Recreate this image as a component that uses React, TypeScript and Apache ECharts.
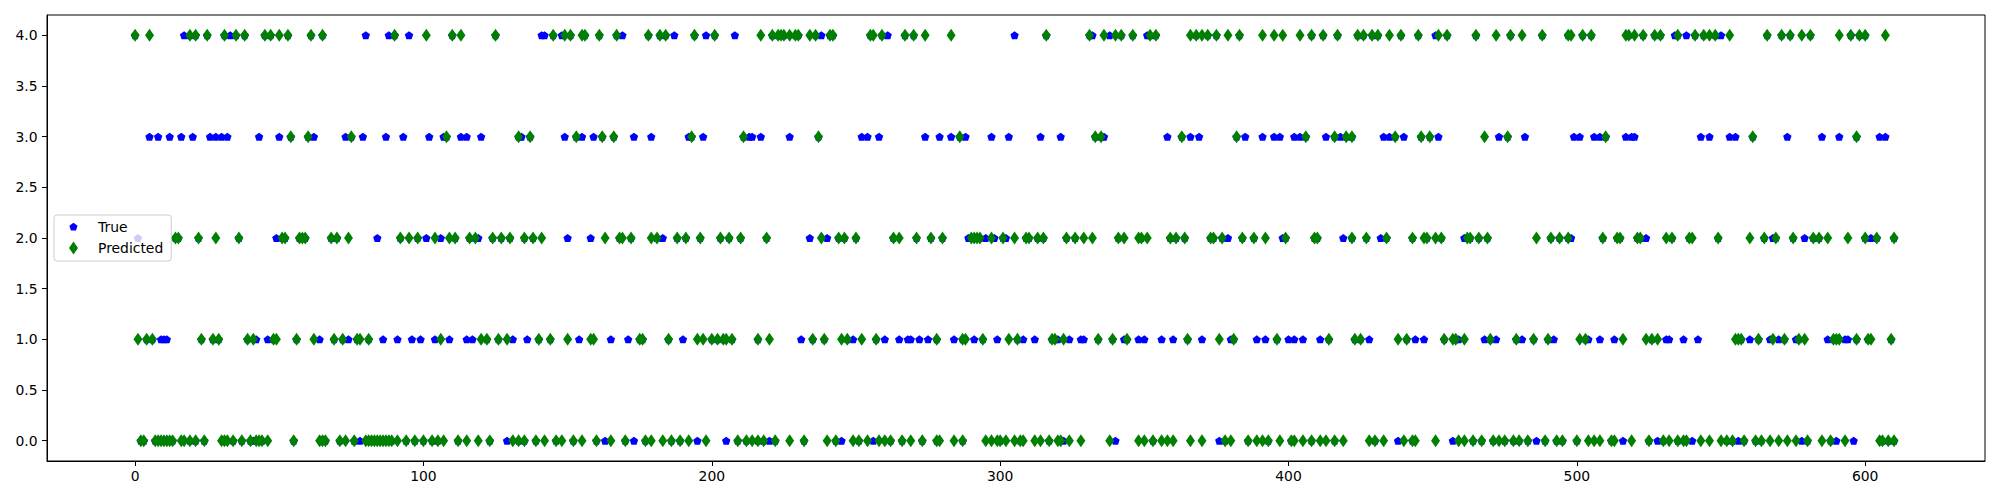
import React, { useEffect, useRef } from "react";
import * as echarts from "echarts";

const xTicks = [0, 100, 200, 300, 400, 500, 600];
const yTicks = [0, 0.5, 1, 1.5, 2, 2.5, 3, 3.5, 4];

// Predicted class (green diamonds): sample indices per class
const pred4 = [0, 5, 19, 21, 25, 31, 35, 38, 45, 47, 50, 53, 61, 65, 90, 101, 110, 113, 125, 145, 149, 151, 155, 156, 161, 167, 178, 182, 184, 194, 201, 217, 221, 223, 224, 225, 227, 229, 230, 234, 236, 241, 242, 255, 256, 259, 267, 270, 274, 283, 316, 331, 336, 340, 342, 346, 352, 354, 366, 368, 370, 372, 375, 379, 383, 391, 395, 398, 404, 408, 412, 417, 424, 426, 429, 431, 435, 439, 445, 452, 455, 465, 472, 477, 481, 488, 497, 498, 502, 505, 517, 518, 520, 523, 527, 529, 535, 541, 544, 546, 548, 553, 566, 571, 574, 578, 581, 591, 595, 598, 600, 607];
const pred3 = [54, 60, 75, 108, 133, 137, 153, 162, 166, 193, 211, 237, 286, 333, 335, 363, 382, 406, 416, 420, 422, 437, 446, 449, 468, 476, 510, 561, 597];
const pred2 = [14, 15, 22, 28, 36, 51, 52, 57, 58, 59, 68, 70, 74, 92, 95, 98, 104, 109, 111, 116, 118, 124, 127, 130, 135, 138, 141, 163, 168, 169, 172, 179, 181, 188, 191, 196, 203, 206, 210, 219, 238, 244, 246, 250, 263, 265, 271, 276, 280, 290, 291, 292, 293, 297, 301, 305, 309, 310, 313, 315, 323, 326, 329, 332, 341, 343, 348, 349, 351, 359, 361, 364, 373, 374, 377, 384, 388, 392, 399, 409, 410, 422, 427, 434, 443, 447, 448, 451, 453, 462, 463, 466, 469, 486, 491, 494, 497, 509, 514, 515, 521, 522, 531, 533, 539, 540, 549, 560, 565, 569, 575, 582, 584, 587, 594, 600, 604, 610];
const pred1 = [1, 4, 6, 23, 27, 29, 39, 41, 48, 49, 56, 62, 69, 72, 77, 78, 81, 106, 120, 122, 126, 129, 140, 144, 150, 158, 159, 175, 176, 185, 195, 197, 200, 202, 204, 205, 207, 216, 220, 235, 239, 245, 247, 252, 257, 278, 287, 288, 294, 303, 306, 318, 319, 322, 334, 339, 344, 365, 376, 381, 396, 414, 423, 425, 438, 441, 454, 457, 458, 461, 470, 479, 485, 490, 501, 503, 516, 524, 526, 528, 555, 556, 557, 563, 568, 572, 577, 579, 589, 590, 591, 597, 601, 602, 609];
const pred0 = [2, 3, 7, 8, 9, 10, 11, 12, 13, 16, 17, 19, 21, 24, 30, 31, 32, 34, 37, 40, 42, 43, 44, 46, 55, 64, 65, 66, 71, 73, 76, 80, 81, 82, 83, 84, 85, 86, 87, 88, 89, 91, 94, 97, 100, 103, 105, 107, 112, 115, 119, 123, 131, 133, 135, 139, 142, 146, 148, 152, 155, 160, 165, 170, 177, 179, 183, 186, 189, 192, 198, 209, 212, 214, 216, 218, 222, 227, 232, 240, 243, 249, 251, 254, 258, 260, 262, 266, 269, 273, 278, 279, 284, 287, 295, 297, 299, 300, 302, 305, 307, 308, 312, 314, 317, 320, 321, 324, 328, 338, 348, 350, 353, 356, 358, 360, 366, 370, 378, 380, 386, 389, 391, 393, 397, 401, 402, 405, 408, 411, 413, 416, 419, 428, 430, 433, 440, 443, 444, 451, 459, 461, 464, 467, 471, 473, 475, 478, 480, 483, 489, 493, 495, 500, 504, 506, 508, 512, 513, 519, 525, 530, 532, 535, 537, 538, 543, 546, 550, 552, 554, 558, 562, 564, 567, 570, 573, 576, 580, 585, 588, 593, 605, 606, 608, 610];

// True class where it differs from the prediction (visible blue pentagons)
const true4 = [17, 33, 80, 88, 95, 141, 142, 148, 169, 187, 198, 208, 238, 261, 305, 332, 338, 351, 451, 534, 538, 550];
const true3 = [5, 8, 12, 16, 20, 26, 28, 30, 32, 43, 50, 62, 73, 79, 87, 93, 102, 107, 113, 115, 120, 134, 149, 155, 159, 173, 179, 192, 197, 213, 214, 217, 227, 252, 254, 258, 274, 279, 283, 288, 297, 303, 314, 321, 336, 358, 366, 369, 385, 391, 395, 397, 402, 404, 413, 418, 433, 435, 440, 452, 473, 482, 499, 501, 506, 508, 517, 519, 520, 543, 546, 553, 555, 573, 585, 591, 605, 607];
const true2 = [1, 49, 84, 101, 106, 119, 150, 158, 183, 234, 240, 289, 295, 298, 302, 379, 398, 419, 432, 461, 498, 524, 568, 579, 602];
const true1 = [9, 10, 11, 42, 46, 64, 74, 86, 91, 96, 99, 104, 109, 115, 117, 131, 136, 154, 165, 171, 190, 231, 249, 260, 265, 268, 269, 272, 275, 284, 291, 299, 308, 312, 320, 324, 328, 329, 343, 348, 350, 356, 360, 370, 380, 389, 392, 400, 402, 405, 411, 428, 444, 447, 459, 468, 472, 481, 492, 504, 508, 513, 531, 532, 537, 542, 560, 567, 570, 576, 587, 593, 594];
const true0 = [41, 78, 129, 163, 173, 195, 205, 220, 245, 256, 322, 340, 376, 438, 457, 486, 516, 528, 540, 556, 578, 590, 596];

const predRows = [pred0, pred1, pred2, pred3, pred4];
const trueRows = [true0, true1, true2, true3, true4];

const PENTAGON = "path://M0,-1L0.9511,-0.309L0.5878,0.809L-0.5878,0.809L-0.9511,-0.309Z";
// legend icons: invisible anchor points widen the icon box so the visible marker sits left of centre
const PENTAGON_LEGEND =
  "path://M-4.29,-1.51L-4.289,-1.51M0,-1L0.9511,-0.309L0.5878,0.809L-0.5878,0.809L-0.9511,-0.309ZM4.54,1.51L4.539,1.51";
const DIAMOND_LEGEND = "path://M-2.846,-1L-2.845,-1M0,-1L0.69,0L0,1L-0.69,0ZM3.0,1L2.999,1";
const FONT = "DejaVu Sans";

export default function App() {
  const ref = useRef<HTMLDivElement>(null);
  useEffect(() => {
    if (!ref.current) return;
    const chart = echarts.init(ref.current, null, { renderer: "svg" });

    const predData: number[][] = [];
    predRows.forEach((list, r) => list.forEach((i) => predData.push([i, r])));
    predData.sort((a, b) => a[0] - b[0]);
    const blueSet = new Set<number>();
    trueRows.forEach((list) => list.forEach((i) => blueSet.add(i)));
    const trueData: number[][] = [];
    trueRows.forEach((list, r) => list.forEach((i) => trueData.push([i, r])));
    predData.forEach(([i, r]) => {
      if (!blueSet.has(i)) trueData.push([i, r]);
    });
    trueData.sort((a, b) => a[0] - b[0]);

    chart.setOption({
      animation: false,
      backgroundColor: "#ffffff",
      grid: {
        left: 47,
        right: 15,
        top: 15,
        bottom: 39,
        show: true,
        borderColor: "#000",
        borderWidth: 1,
        containLabel: false,
        outerBoundsMode: "none",
      },
      legend: {
        left: 54,
        top: 215,
        orient: "vertical",
        padding: [5, 8, 6, 1],
        itemGap: 7,
        itemWidth: 38,
        itemHeight: 13,
        selectedMode: false,
        backgroundColor: "rgba(255,255,255,0.8)",
        borderColor: "#cccccc",
        borderWidth: 1,
        borderRadius: 3,
        textStyle: { fontFamily: FONT, fontSize: 13.9, color: "#000" },
        data: [
          { name: "True", icon: PENTAGON_LEGEND },
          { name: "Predicted", icon: DIAMOND_LEGEND },
        ],
      },
      xAxis: {
        type: "value",
        min: -30.55,
        max: 641.55,
        axisLine: { show: true, onZero: false, lineStyle: { color: "#000", width: 1 } },
        axisTick: { show: true, length: 5, lineStyle: { color: "#000", width: 1 }, customValues: xTicks },
        axisLabel: {
          customValues: xTicks,
          fontFamily: FONT,
          fontSize: 13.9,
          color: "#000",
          margin: 8,
        },
        splitLine: { show: false },
      },
      yAxis: {
        type: "value",
        min: -0.2,
        max: 4.2,
        axisLine: { show: true, onZero: false, lineStyle: { color: "#000", width: 1 } },
        axisTick: { show: true, length: 5, lineStyle: { color: "#000", width: 1 }, customValues: yTicks },
        axisLabel: {
          customValues: yTicks,
          formatter: (v: number) => v.toFixed(1),
          fontFamily: FONT,
          fontSize: 13.9,
          color: "#000",
          margin: 9.5,
        },
        splitLine: { show: false },
      },
      series: [
        {
          type: "scatter",
          name: "True",
          data: trueData,
          symbol: PENTAGON,
          symbolSize: [8.4, 8],
          itemStyle: { color: "#0000ff", opacity: 1 },
          silent: true,
          emphasis: { disabled: true },
        },
        {
          type: "scatter",
          name: "Predicted",
          data: predData,
          symbol: "diamond",
          symbolSize: [9, 13],
          itemStyle: { color: "#008000", opacity: 1 },
          silent: true,
          emphasis: { disabled: true },
        },
      ],
    });
    return () => chart.dispose();
  }, []);
  return (
    <div
      ref={ref}
      style={{ position: "fixed", left: 0, top: 0, width: 2000, height: 500, background: "#fff" }}
    />
  );
}
